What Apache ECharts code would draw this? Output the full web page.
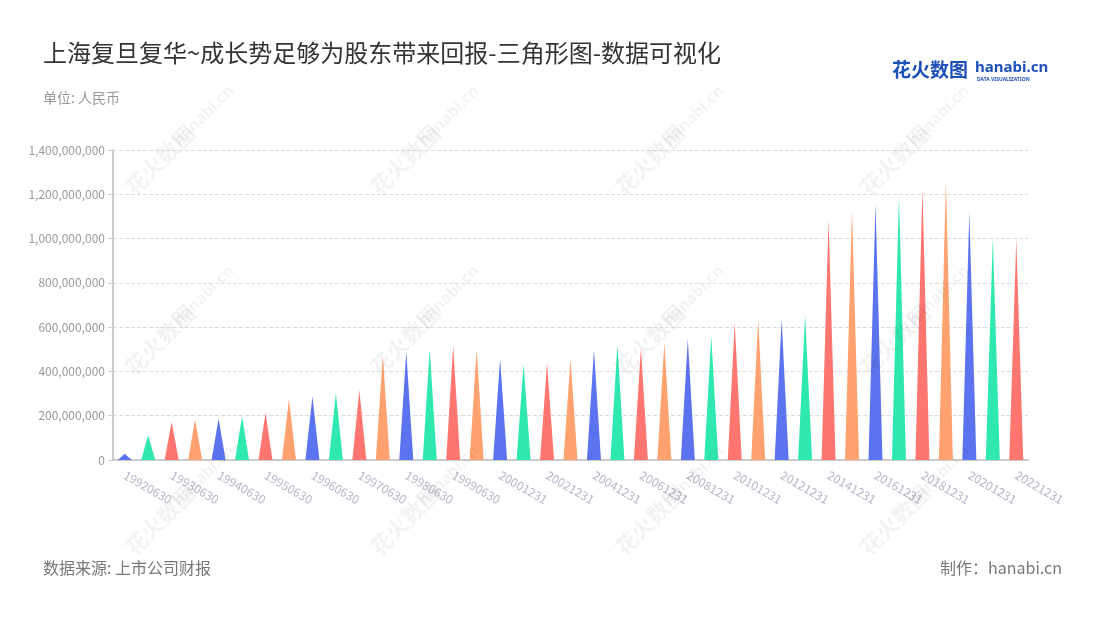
<!DOCTYPE html>
<html><head><meta charset="utf-8">
<script src="https://cdn.jsdelivr.net/npm/echarts@6/dist/echarts.min.js"></script>
<style>html,body{margin:0;padding:0;background:#fff}#c{width:1100px;height:620px}</style>
</head><body><div id="c"></div>
<script>
const categories = ['19920630','19921231','19930630','19931231','19940630','19941231','19950630','19951231','19960630','19961231','19970630','19971231','19980630','19981231','19990630','19991231','20001231','20011231','20021231','20031231','20041231','20051231','20061231','20071231','20081231','20091231','20101231','20111231','20121231','20131231','20141231','20151231','20161231','20171231','20181231','20191231','20201231','20211231','20221231'];
const values = [28000000,112000000,173000000,184000000,187000000,197000000,212000000,276000000,287000000,302000000,316000000,472000000,489000000,500000000,514000000,500000000,456000000,433000000,437000000,455000000,497000000,523000000,507000000,530000000,546000000,560000000,621000000,637000000,636000000,653000000,1088000000,1130000000,1160000000,1192000000,1228000000,1262000000,1122000000,1002000000,998000000];
const palette = ['#5b73ee','#2ee8b0','#ff7670','#ffa270'];
const FONT = '"Noto Sans CJK SC","Noto Sans",sans-serif';

const wm = [];
const wmPos = [[160,160],[405,160],[650,160],[895,160],[160,340],[405,340],[650,340],[895,340],[160,520],[405,520],[650,520],[895,520]];
wmPos.forEach(p => {
  wm.push({type:'text', x:p[0], y:p[1], rotation:Math.PI/4, silent:true, z:100,
    style:{text:'花火数图', fill:'rgba(0,0,0,0.05)', font:'bold 22px "Noto Sans CJK SC"', align:'center', verticalAlign:'middle'}});
  wm.push({type:'text', x:p[0]+44, y:p[1]-44, rotation:Math.PI/4, silent:true, z:100,
    style:{text:'hanabi.cn', fill:'rgba(0,0,0,0.05)', font:'bold 16px "Noto Sans"', align:'center', verticalAlign:'middle'}});
});

const chart = echarts.init(document.getElementById('c'));
chart.setOption({
  backgroundColor:'#fff',
  animation:false,
  title:[
    {text:'上海复旦复华~成长势足够为股东带来回报-三角形图-数据可视化', left:38, top:36, textStyle:{fontFamily:FONT, fontSize:24, fontWeight:'normal', color:'#333'}},
    {text:'单位: 人民币', left:38, top:86, textStyle:{fontFamily:FONT, fontSize:14, fontWeight:'normal', color:'#999'}},
    {text:'数据来源: 上市公司财报', left:38, top:555, textStyle:{fontFamily:FONT, fontSize:16, fontWeight:'normal', color:'#777'}},
    {text:'制作：hanabi.cn', right:33, top:555, textStyle:{fontFamily:FONT, fontSize:16, fontWeight:'normal', color:'#777'}}
  ],
  graphic:[
    {type:'text', left:892, top:60, style:{text:'花火数图', fill:'#1c4fb8', font:'bold 19px "Noto Sans CJK SC"'}},
    {type:'text', left:975, top:60, style:{text:'hanabi.cn', fill:'#1c4fb8', font:'bold 15px "Noto Sans"'}},
    {type:'text', left:977, top:77, style:{text:'DATA VISUALIZATION', fill:'#1c4fb8', font:'bold 5px "Noto Sans"'}}
  ].concat(wm),
  grid:{left:113, right:72, top:150, bottom:160, containLabel:false},
  xAxis:{type:'category', data:categories,
    axisLine:{lineStyle:{color:'#ccc', width:2}},
    axisTick:{alignWithLabel:true, interval:1, lineStyle:{color:'#ccc'}},
    axisLabel:{interval:1, rotate:-30, color:'#b3b6c6', fontSize:12, fontFamily:FONT, margin:14}
  },
  yAxis:{type:'value', min:0, max:1400000000, interval:200000000,
    axisLine:{show:true, lineStyle:{color:'#ccc', width:2}},
    axisTick:{show:true, lineStyle:{color:'#ccc'}},
    axisLabel:{color:'#999', fontSize:12, fontFamily:FONT, formatter:v=>v.toLocaleString('en-US')},
    splitLine:{lineStyle:{type:'dashed', color:'#ddd'}}
  },
  series:[{
    type:'pictorialBar',
    symbol:'path://M0,10 L5,0 L10,10 Z',
    symbolSize:[14,'100%'],
    data:values.map((v,i)=>({value:v, itemStyle:{color:palette[i%4]}}))
  }]
});
</script></body></html>
